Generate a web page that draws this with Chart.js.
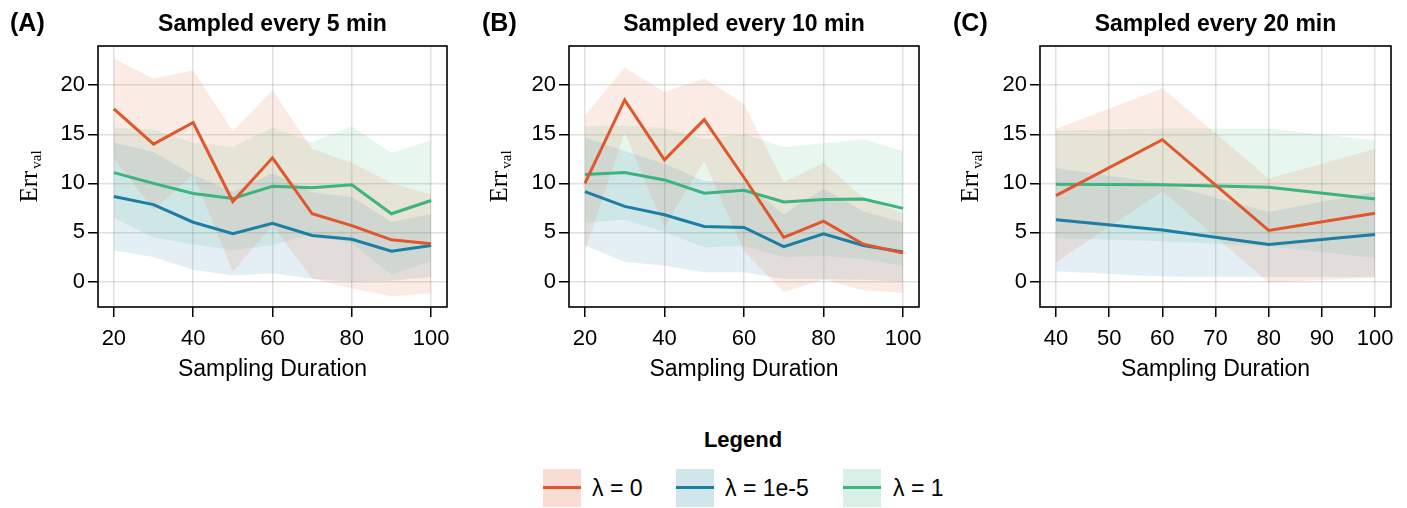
<!DOCTYPE html>
<html>
<head>
<meta charset="utf-8">
<script src="https://cdn.jsdelivr.net/npm/chart.js@4.4.1/dist/chart.umd.min.js"></script>
<style>
  body { margin: 0; background: #fff; width: 1407px; height: 508px; position: relative; overflow: hidden;
         font-family: "Liberation Sans", Arial, sans-serif; }
  canvas { position: absolute; top: 0; }
  .legend-title { position: absolute; left: 643px; width: 200px; top: 427px; text-align: center;
                  font-weight: bold; font-size: 22px; }
  .patch { position: absolute; top: 469px; width: 38px; height: 38px; }
  .patch span { position: absolute; left: 0; right: 0; top: 17px; height: 3px; }
  .item { position: absolute; top: 474px; font-size: 23px; line-height: 28px; }
</style>
</head>
<body>
<canvas id="chartA" width="470" height="400" style="left:0px"></canvas>
<canvas id="chartB" width="470" height="400" style="left:470px"></canvas>
<canvas id="chartC" width="467" height="400" style="left:940px"></canvas>
<div id="legend"></div>

<script>
// --- Data ---
const durA = [20, 30, 40, 50, 60, 70, 80, 90, 100];
const durB = [20, 30, 40, 50, 60, 70, 80, 90, 100];
const durC = [40, 60, 80, 100];

// panel A: sampled every 5 min
const redMeanA   = [17.6, 14.0, 16.2, 8.15, 12.6, 6.9, 5.7, 4.25, 3.85];
const redSdA     = [5.1, 6.7, 5.3, 7.15, 6.9, 6.6, 6.4, 5.75, 5.05];
const blueMeanA  = [8.66, 7.84, 6.04, 4.86, 5.94, 4.69, 4.31, 3.09, 3.67];
const blueSdA    = [5.5, 5.35, 4.85, 4.25, 5.1, 4.4, 4.3, 3.0, 3.2];
const greenMeanA = [11.1, 10.0, 8.96, 8.45, 9.7, 9.55, 9.85, 6.9, 8.25];
const greenSdA   = [4.6, 5.5, 5.2, 5.25, 6.0, 4.65, 5.95, 6.2, 6.15];

// panel B: sampled every 10 min
const redMeanB   = [10.0, 18.5, 12.4, 16.5, 10.6, 4.5, 6.15, 3.8, 2.9];
const redSdB     = [6.9, 3.3, 6.9, 4.2, 7.5, 5.6, 5.95, 4.7, 4.05];
const blueMeanB  = [9.15, 7.65, 6.8, 5.6, 5.5, 3.55, 4.85, 3.67, 3.0];
const blueSdB    = [5.5, 5.65, 5.2, 4.65, 4.55, 3.3, 4.6, 3.5, 3.0];
const greenMeanB = [10.9, 11.1, 10.35, 9.0, 9.3, 8.1, 8.35, 8.4, 7.45];
const greenSdB   = [4.9, 4.8, 5.3, 5.5, 5.7, 5.6, 5.75, 6.1, 5.85];

// panel C: sampled every 20 min
const redMeanC   = [8.75, 14.45, 5.2, 6.95];
const redSdC     = [6.8, 5.25, 5.3, 6.55];
const blueMeanC  = [6.3, 5.25, 3.77, 4.8];
const blueSdC    = [5.25, 4.75, 3.3, 4.35];
const greenMeanC = [9.9, 9.85, 9.6, 8.4];
const greenSdC   = [5.5, 5.75, 6.0, 6.0];

const seriesLabels = ['λ = 0', 'λ = 1e-5', 'λ = 1'];
const yTicks = [0, 5, 10, 15, 20];
const xTicksAB = [20, 40, 60, 80, 100];
const xTicksC = [40, 50, 60, 70, 80, 90, 100];

// --- Styles ---
const colors = [[224, 87, 44], [26, 127, 163], [59, 180, 126]];
const rgba = (c, a) => `rgba(${c[0]},${c[1]},${c[2]},${a})`;
const SANS = '"Liberation Sans", Arial, sans-serif';
const SERIF = '"Liberation Serif", "DejaVu Serif", serif';

// draws frame, titles and axis labels
const decorPlugin = {
    id: 'decor',
    afterDraw(chart, args, opts) {
        const ctx = chart.ctx;
        const a = chart.chartArea;
        const cx = (a.left + a.right) / 2;
        ctx.save();
        ctx.strokeStyle = '#000';
        ctx.lineWidth = 1.6;
        ctx.strokeRect(a.left, a.top, a.right - a.left, a.bottom - a.top);

        ctx.fillStyle = '#000';
        ctx.textBaseline = 'middle';
        ctx.textAlign = 'center';
        ctx.font = `bold 23px ${SANS}`;
        ctx.fillText(opts.title, cx, 25);

        ctx.textAlign = 'left';
        ctx.font = `bold 25px ${SANS}`;
        ctx.fillText(opts.panel, opts.panelX, 24);

        ctx.textAlign = 'center';
        ctx.font = `23px ${SANS}`;
        ctx.fillText('Sampling Duration', cx, 370);

        // y label: Err_val
        ctx.translate(opts.ylabX, (a.top + a.bottom) / 2);
        ctx.rotate(-Math.PI / 2);
        ctx.textBaseline = 'alphabetic';
        ctx.textAlign = 'left';
        ctx.font = `25px ${SERIF}`;
        const w1 = ctx.measureText('Err').width;
        ctx.font = `15px ${SERIF}`;
        const w2 = ctx.measureText('val').width;
        const x0 = -(w1 + w2 + 2) / 2;
        ctx.font = `25px ${SERIF}`;
        ctx.fillText('Err', x0, 0);
        ctx.font = `15px ${SERIF}`;
        ctx.fillText('val', x0 + w1 + 2, 4);
        ctx.restore();
    }
};

function buildDatasets(xs, means, sds) {
    const bands = [];
    const lines = [];
    means.forEach((m, k) => {
        const up = xs.map((x, i) => ({ x, y: m[i] + sds[k][i] }));
        const lo = xs.map((x, i) => ({ x, y: m[i] - sds[k][i] }));
        bands.push({ data: up, borderWidth: 0, pointRadius: 0, fill: false, order: 1 });
        bands.push({ data: lo, borderWidth: 0, pointRadius: 0, fill: '-1',
                     backgroundColor: rgba(colors[k], 0.12), order: 1 });
    });
    means.forEach((m, k) => {
        lines.push({
            label: seriesLabels[k],
            data: xs.map((x, i) => ({ x, y: m[i] })),
            borderColor: rgba(colors[k], 1),
            borderWidth: 3,
            pointRadius: 0,
            tension: 0,
            fill: false,
            order: 0
        });
    });
    return bands.concat(lines);
}

function makeChart(id, cfg) {
    const gridStyle = {
        color: 'rgba(0,0,0,0.12)',
        lineWidth: 1.5,
        tickColor: '#000',
        tickLength: 10,
        tickWidth: 1.5
    };
    return new Chart(document.getElementById(id), {
        type: 'line',
        data: { datasets: buildDatasets(cfg.xs, cfg.means, cfg.sds) },
        options: {
            responsive: false,
            animation: false,
            devicePixelRatio: 1,
            layout: { padding: { top: 46, right: cfg.padRight, left: 0, bottom: 0 } },
            plugins: {
                legend: { display: false },
                tooltip: { enabled: false },
                decor: { title: cfg.title, panel: cfg.panel, panelX: cfg.panelX, ylabX: cfg.ylabX }
            },
            scales: {
                x: {
                    type: 'linear',
                    min: cfg.xMin,
                    max: cfg.xMax,
                    afterBuildTicks: s => { s.ticks = cfg.xTicks.map(v => ({ value: v })); },
                    afterFit: s => { s.height = 93; },
                    grid: gridStyle,
                    border: { display: false },
                    ticks: { color: '#000', font: { family: SANS, size: 22 }, padding: 9, maxRotation: 0 }
                },
                y: {
                    min: -2.6,
                    max: 24,
                    afterBuildTicks: s => { s.ticks = yTicks.map(v => ({ value: v })); },
                    afterFit: s => { s.width = cfg.yWidth; },
                    grid: gridStyle,
                    border: { display: false },
                    ticks: { color: '#000', font: { family: SANS, size: 22 }, padding: 3 }
                }
            }
        },
        plugins: [decorPlugin]
    });
}

makeChart('chartA', {
    xs: durA, means: [redMeanA, blueMeanA, greenMeanA], sds: [redSdA, blueSdA, greenSdA],
    title: 'Sampled every 5 min', panel: '(A)', panelX: 10, ylabX: 37,
    xMin: 16, xMax: 104, xTicks: xTicksAB, yWidth: 98, padRight: 23
});
makeChart('chartB', {
    xs: durB, means: [redMeanB, blueMeanB, greenMeanB], sds: [redSdB, blueSdB, greenSdB],
    title: 'Sampled every 10 min', panel: '(B)', panelX: 12, ylabX: 37,
    xMin: 16, xMax: 104, xTicks: xTicksAB, yWidth: 99, padRight: 21
});
makeChart('chartC', {
    xs: durC, means: [redMeanC, blueMeanC, greenMeanC], sds: [redSdC, blueSdC, greenSdC],
    title: 'Sampled every 20 min', panel: '(C)', panelX: 13, ylabX: 38,
    xMin: 37, xMax: 103, xTicks: xTicksC, yWidth: 100, padRight: 16
});

// --- Legend ---
const legend = document.getElementById('legend');
const patchX = [543, 676, 843];
const textX = [592, 725, 893];
let html = '<div class="legend-title">Legend</div>';
seriesLabels.forEach((lab, k) => {
    html += `<div class="patch" style="left:${patchX[k]}px;background:${rgba(colors[k], 0.2)}">` +
            `<span style="background:${rgba(colors[k], 1)}"></span></div>` +
            `<div class="item" style="left:${textX[k]}px">${lab}</div>`;
});
legend.innerHTML = html;
</script>
</body>
</html>
